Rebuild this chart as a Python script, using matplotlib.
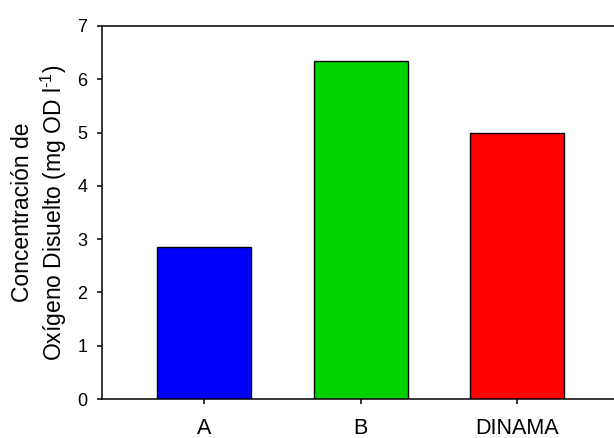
import matplotlib
matplotlib.use("Agg")
import matplotlib.pyplot as plt

plt.rcParams["font.family"] = ["Liberation Sans", "DejaVu Sans"]
plt.rcParams["mathtext.fontset"] = "custom"
plt.rcParams["mathtext.rm"] = "Liberation Sans"

categories = ["A", "B", "DINAMA"]
values = [2.85, 6.35, 5.0]
colors = ["#0000ff", "#00d200", "#ff0000"]
y_ticks = [0, 1, 2, 3, 4, 5, 6, 7]

fig = plt.figure(figsize=(6.14, 4.38), dpi=100)
ax = fig.add_axes([0.1661, 0.089, 0.8339, 0.8517])

x = list(range(len(categories)))
ax.bar(x, values, width=0.6, color=colors, edgecolor="black", linewidth=1.0)

ax.set_xlim(-0.655, 2.62)
ax.set_ylim(0, 7)
ax.set_xticks(x)
ax.set_xticklabels(categories)
ax.set_yticks(y_ticks)

for s in ["left", "top", "bottom"]:
    ax.spines[s].set_linewidth(1.1)
ax.spines["right"].set_visible(False)

ax.tick_params(axis="both", direction="out", length=3.6, width=1.1)
ax.tick_params(axis="y", pad=7, labelsize=13)
ax.tick_params(axis="x", pad=10, labelsize=15.5)

# hyphen instead of math minus for the superscript, like the original
ax.set_ylabel("Concentración de\nOxígeno Disuelto (mg OD l$^{\u2010\\mathrm{1}}$)",
              fontsize=16.5, linespacing=1.2, labelpad=6)

fig.savefig("out.png", dpi=100)
